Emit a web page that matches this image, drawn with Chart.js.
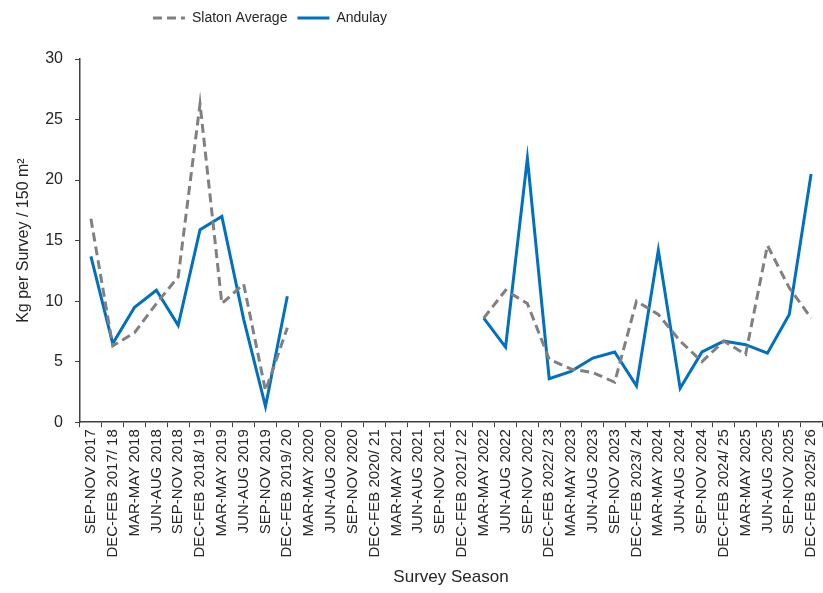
<!DOCTYPE html>
<html>
<head>
<meta charset="utf-8">
<script src="https://cdn.jsdelivr.net/npm/chart.js@4.4.1/dist/chart.umd.min.js"></script>
<style>
  html, body { margin: 0; padding: 0; background: #fff; }
  #wrap { width: 823px; height: 593px; }
</style>
</head>
<body>
<div id="wrap"><canvas id="lineChart" width="823" height="593"></canvas></div>
<script>
const seasons = [
    'SEP-NOV 2017', 'DEC-FEB 2017/ 18', 'MAR-MAY 2018', 'JUN-AUG 2018', 'SEP-NOV 2018',
    'DEC-FEB 2018/ 19', 'MAR-MAY 2019', 'JUN-AUG 2019', 'SEP-NOV 2019', 'DEC-FEB 2019/ 20',
    'MAR-MAY 2020', 'JUN-AUG 2020', 'SEP-NOV 2020', 'DEC-FEB 2020/ 21', 'MAR-MAY 2021',
    'JUN-AUG 2021', 'SEP-NOV 2021', 'DEC-FEB 2021/ 22', 'MAR-MAY 2022', 'JUN-AUG 2022',
    'SEP-NOV 2022', 'DEC-FEB 2022/ 23', 'MAR-MAY 2023', 'JUN-AUG 2023', 'SEP-NOV 2023',
    'DEC-FEB 2023/ 24', 'MAR-MAY 2024', 'JUN-AUG 2024', 'SEP-NOV 2024', 'DEC-FEB 2024/ 25',
    'MAR-MAY 2025', 'JUN-AUG 2025', 'SEP-NOV 2025', 'DEC-FEB 2025/ 26'
];

const slatonAverage = [
    16.8, 6.3, 7.4, 9.8, 12.0, 26.3, 9.8, 11.4, 2.6, 7.8,
    null, null, null, null, null, null, null, null,
    8.6, 10.9, 9.8, 5.2, 4.4, 4.1, 3.3, 10.0, 8.9, 6.7, 5.0, 6.7, 5.6, 14.6, 11.1, 8.6
];

const andulay = [
    13.7, 6.5, 9.5, 10.9, 8.0, 15.9, 17.0, 8.5, 1.3, 10.4,
    null, null, null, null, null, null, null, null,
    8.6, 6.2, 21.8, 3.6, 4.2, 5.3, 5.8, 3.0, 14.2, 2.8, 5.8, 6.7, 6.4, 5.7, 8.9, 20.5
];

const yTicks = [0, 5, 10, 15, 20, 25, 30];

const fontFamily = "'Liberation Sans', Arial, sans-serif";
const textColor = '#262626';
const axisColor = '#404040';

// legend sits left of centre in the original, with extra room below it
const legendTweak = {
    id: 'legendTweak',
    beforeLayout(chart) {
        const lg = chart.legend;
        if (lg && !lg._patched) {
            const fit = lg.fit;
            lg.fit = function () { fit.call(this); this.height += 24; };
            lg._patched = true;
        }
    },
    afterLayout(chart) {
        chart.legend.left = 0;
        chart.legend.right = 540;
    }
};

const ctx = document.getElementById('lineChart').getContext('2d');
const chart = new Chart(ctx, {
    type: 'line',
    data: {
        labels: seasons,
        datasets: [{
            label: 'Slaton Average',
            data: slatonAverage,
            borderColor: '#808080',
            borderWidth: 3,
            borderDash: [9, 5],
            pointRadius: 0,
            fill: false,
            tension: 0,
            spanGaps: false
        }, {
            label: 'Andulay',
            data: andulay,
            borderColor: '#0070C0',
            borderWidth: 3,
            pointRadius: 0,
            fill: false,
            tension: 0,
            spanGaps: false
        }]
    },
    plugins: [legendTweak],
    options: {
        responsive: false,
        animation: false,
        layout: { padding: { left: 10, right: 1, top: 1, bottom: 5 } },
        plugins: {
            legend: {
                position: 'top',
                labels: {
                    usePointStyle: true,
                    pointStyle: 'line',
                    pointStyleWidth: 32,
                    color: textColor,
                    font: { family: fontFamily, size: 14 },
                    padding: 10,
                    generateLabels: function (chart) {
                        const items = Chart.defaults.plugins.legend.labels.generateLabels(chart);
                        items.forEach(function (item, i) {
                            item.lineDash = chart.data.datasets[i].borderDash || [];
                            item.lineWidth = 3;
                        });
                        return items;
                    }
                }
            },
            tooltip: { enabled: false }
        },
        scales: {
            x: {
                offset: true,
                afterFit: function (scale) {
                    scale.paddingRight = 0;
                },
                grid: {
                    offset: true,
                    drawOnChartArea: false,
                    drawTicks: true,
                    tickLength: 5,
                    color: axisColor,
                    lineWidth: 1
                },
                border: { color: axisColor, width: 1.5 },
                ticks: {
                    autoSkip: false,
                    maxRotation: 90,
                    minRotation: 90,
                    color: textColor,
                    padding: 2,
                    font: { family: fontFamily, size: 15 }
                },
                title: {
                    display: true,
                    text: 'Survey Season',
                    color: textColor,
                    font: { family: fontFamily, size: 17 },
                    padding: { top: 8, bottom: 0 }
                }
            },
            y: {
                min: 0,
                max: 30,
                afterBuildTicks: function (axis) {
                    axis.ticks = yTicks.map(v => ({ value: v }));
                },
                grid: {
                    drawOnChartArea: false,
                    drawTicks: true,
                    tickLength: 5,
                    color: axisColor
                },
                border: { color: axisColor, width: 1.5 },
                ticks: {
                    color: textColor,
                    padding: 12,
                    font: { family: fontFamily, size: 16 }
                },
                title: {
                    display: true,
                    text: 'Kg per Survey / 150 m²',
                    color: textColor,
                    font: { family: fontFamily, size: 16 },
                    padding: { top: 4, bottom: 0 }
                }
            }
        }
    }
});
</script>
</body>
</html>
